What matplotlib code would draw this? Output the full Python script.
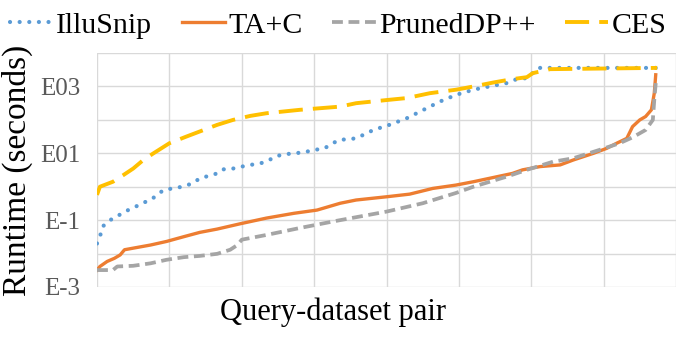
import matplotlib.pyplot as plt
from matplotlib.ticker import FixedLocator, FixedFormatter

# Runtimes (seconds), per query-dataset pair (sorted)
illusnip_x = [0, 2, 4, 9, 14, 19, 25, 31, 37, 46, 53, 59, 66, 71, 77, 83, 87, 94, 100, 106,
              113, 119, 124, 131, 137, 144, 150, 157, 163, 167, 179, 191, 202, 214, 230, 237,
              248, 260, 271, 283, 290, 297, 301, 305, 387]
illusnip = [0.02, 0.032, 0.065, 0.1, 0.13, 0.18, 0.23, 0.32, 0.4, 0.8, 0.9, 1.0, 1.26, 1.78,
            2.1, 2.5, 3.3, 3.5, 4.0, 4.5, 5.0, 6.3, 8.3, 9.5, 10, 11, 12.6, 14, 20, 25, 28, 50,
            71, 112, 250, 355, 560, 800, 1000, 1260, 1660, 1780, 2500, 3600, 3600]

tac_x = [0, 2, 7, 12, 16, 19, 25, 37, 48, 60, 71, 83, 99, 117, 136, 152, 168, 179, 200, 216,
         232, 248, 260, 271, 287, 294, 306, 320, 329, 343, 352, 359, 366, 370, 375, 379, 383,
         385, 386]
tac = [0.0032, 0.0041, 0.0058, 0.0072, 0.0091, 0.013, 0.0145, 0.018, 0.023, 0.032, 0.043,
       0.054, 0.078, 0.115, 0.16, 0.2, 0.32, 0.4, 0.5, 0.6, 0.89, 1.12, 1.41, 1.78, 2.5, 3.2,
       4.0, 4.5, 6.3, 10, 14, 20, 28, 63, 100, 126, 200, 630, 2240]

pruned_x = [0, 11, 14, 25, 37, 48, 60, 71, 83, 92, 97, 100, 117, 140, 163, 168, 200, 225, 248,
            260, 283, 297, 315, 329, 347, 361, 370, 379, 384, 385, 386]
pruned = [0.0032, 0.0032, 0.0041, 0.0043, 0.0051, 0.0065, 0.0078, 0.0085, 0.0098, 0.013,
          0.018, 0.026, 0.036, 0.058, 0.091, 0.1, 0.18, 0.32, 0.65, 1.0, 2.0, 3.2, 5.6, 7.1,
          12.6, 20, 30, 50, 100, 400, 1260]

ces_x = [0, 2, 11, 18, 25, 32, 39, 50, 62, 71, 83, 94, 106, 117, 140, 163, 168, 179, 202, 214,
         230, 248, 260, 274, 287, 297, 301, 313, 387]
ces = [0.57, 1.0, 1.41, 2.2, 3.5, 6.3, 10, 20, 32, 45, 71, 100, 132, 158, 200, 240, 250, 316,
       400, 450, 630, 800, 1000, 1320, 1660, 1900, 2500, 3300, 3600]

ytick_vals = [1e-3, 1e-1, 1e1, 1e3]
ytick_labels = ['E-3', 'E-1', 'E01', 'E03']

plt.rcParams['font.family'] = ['Liberation Serif', 'DejaVu Serif']

fig = plt.figure(figsize=(6.76, 3.38), dpi=100)
ax = fig.add_axes([0.1435, 0.151, 0.8565, 0.692])

ax.plot(illusnip_x, illusnip, color='#5B9BD5', lw=3.0, dashes=(0.01, 2.3),
        dash_capstyle='round', label='IlluSnip')
ax.plot(tac_x, tac, color='#ED7D31', lw=2.4, label='TA+C')
ax.plot(pruned_x, pruned, color='#A5A5A5', lw=2.7, dashes=(2.9, 1.5), label='PrunedDP++')
ax.plot(ces_x, ces, color='#FFC000', lw=2.8, dashes=(6.2, 2.6), label='CES')

ax.set_yscale('log')
ax.set_ylim(1e-3, 1e4)
ax.set_xlim(0, 400)
ax.yaxis.set_major_locator(FixedLocator(ytick_vals))
ax.yaxis.set_major_formatter(FixedFormatter(ytick_labels))
ax.yaxis.set_minor_locator(FixedLocator([1e-2, 1, 1e2, 1e4]))
ax.yaxis.set_minor_formatter(FixedFormatter(['', '', '', '']))
ax.set_xticks(range(0, 401, 50))
ax.set_xticklabels([])
ax.tick_params(length=0, which='both')
ax.tick_params(axis='y', labelsize=18, labelcolor='#595959', pad=12)
ax.grid(True, which='both', color='#D9D9D9', lw=1)
ax.set_axisbelow(True)
for s in ax.spines.values():
    s.set_visible(False)

ax.set_ylabel('Runtime (seconds)', fontsize=24, labelpad=5)
ax.set_xlabel('Query-dataset pair', fontsize=22)
ax.xaxis.set_label_coords(0.408, -0.045, transform=ax.transAxes)
ax.xaxis.label.set_va('top')

fig.legend(loc='center', bbox_to_anchor=(0.5, 0.925), ncol=4, frameon=False,
           fontsize=21.5, handlelength=1.45, handletextpad=0.1, columnspacing=1.0)

fig.savefig('out.png', dpi=100)
